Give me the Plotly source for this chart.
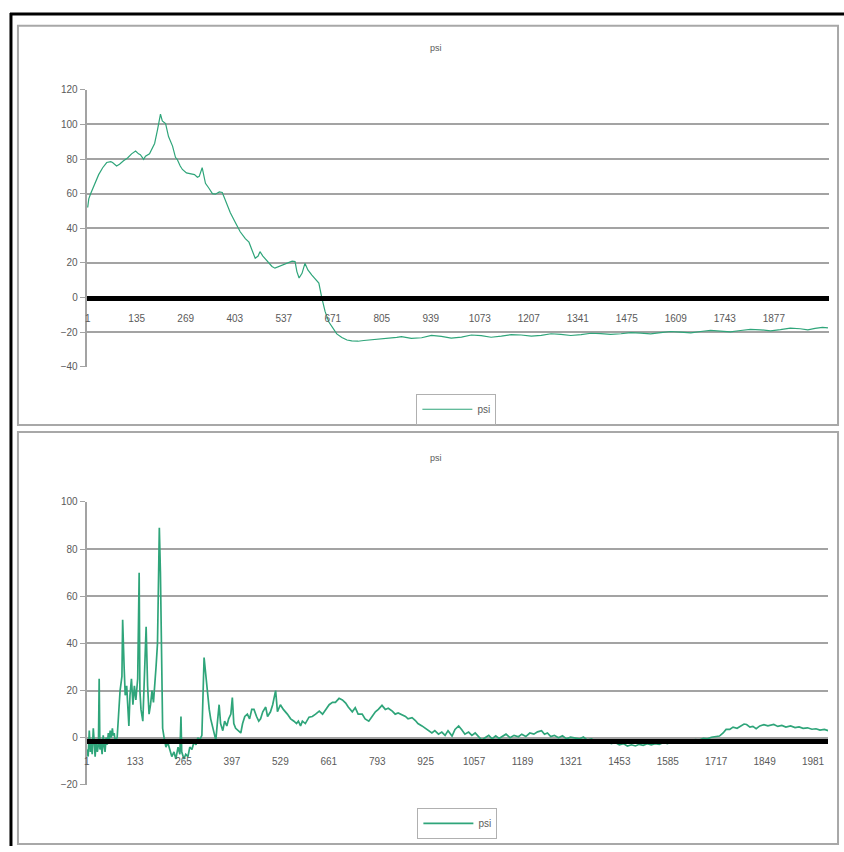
import plotly.graph_objects as go

# ---------------- data ----------------
top_x = [1, 4, 9, 20, 31, 42, 53, 64, 69, 80, 88, 99, 110, 121, 132, 140, 145, 154, 159, 170,
         178, 184, 192, 200, 205, 214, 222, 233, 241, 246, 254, 260, 271, 282, 293, 301, 306, 314,
         323, 333, 342, 350, 361, 369, 380, 391, 404, 418, 432, 442, 451, 459, 467, 472, 480, 486,
         497, 505, 513, 524, 538, 551, 560, 568, 573, 579, 587, 595, 603, 614, 625, 633, 641, 650,
         660, 669, 682, 696, 710, 723, 740, 756, 775, 794, 818, 846, 859, 886, 914, 941, 968, 995,
         1023, 1050, 1077, 1104, 1132, 1159, 1186, 1214, 1241, 1268, 1295, 1322, 1350, 1377, 1404,
         1431, 1459, 1486, 1513, 1540, 1568, 1595, 1622, 1650, 1677, 1704, 1731, 1758, 1786, 1813,
         1840, 1868, 1895, 1922, 1949, 1970, 1990, 2010, 2025]
top_y = [52, 57, 60, 66, 71, 75, 78, 78.5, 78, 76, 77, 79, 80.6, 83, 84.6, 83, 82.5, 79.8, 81.6, 83,
         87, 89, 97, 106, 102, 100.5, 93, 87.5, 81, 79.7, 76, 74, 72, 71.5, 71, 69.5, 70, 75,
         66, 63, 60, 59.7, 61, 60.7, 55, 49, 43.6, 38, 34, 32, 27, 22.7, 24, 26.5, 24, 22.7,
         20, 18, 17, 18, 19, 20, 21, 20.8, 15, 11.3, 14, 19.8, 16, 13, 10, 8.4, 0, -8,
         -14, -17, -21, -23, -24.5, -25, -25.2, -24.8, -24.5, -24, -23.5, -23, -22.5, -23.6, -23.2, -21.8, -22.4, -23.4,
         -22.8, -21.6, -22, -22.9, -22.3, -21.4, -21.6, -22.3, -21.8, -20.9, -21.2, -21.9, -21.4, -20.6, -20.8,
         -21.3, -20.9, -20.2, -20.5, -20.9, -20.2, -19.6, -20, -20.4, -19.6, -18.9, -19.4, -19.8, -19, -18.4,
         -18.6, -19.2, -18.5, -17.6, -18, -18.6, -17.8, -17.2, -17.5]

bot_x = [1, 5, 8, 11, 13, 16, 19, 22, 24, 27, 30, 33, 35, 37, 40, 43, 46, 49, 51, 54, 57, 60, 62, 65,
         68, 71, 73, 76, 78, 84, 92, 97, 99, 103, 106, 110, 114, 116, 119, 123, 127, 131, 135, 140,
         144, 146, 149, 154, 157, 163, 167, 171, 175, 179, 183, 187, 190, 194, 199, 202, 205, 208,
         212, 217, 222, 228, 233, 239, 244, 250, 255, 258, 260, 266, 271, 277, 282, 288, 293, 299,
         304, 309, 315, 321, 326, 330, 335, 339, 344, 347, 353, 357, 362, 366, 372, 377, 383, 388,
         394, 398, 402, 407, 413, 421, 426, 432, 439, 445, 451, 457, 464, 470, 475, 481, 489, 494,
         502, 508, 516, 521, 529, 537, 548, 557, 566, 573, 578, 584, 589, 597, 607, 616, 625, 635,
         644, 652, 662, 671, 679, 689, 698, 707, 714, 725, 733, 741, 752, 760, 770, 779, 788, 796,
         806, 815, 823, 834, 842, 850, 861, 870, 877, 888, 897, 904, 915, 924, 933, 942, 950, 960,
         969, 978, 986, 997, 1005, 1015, 1024, 1032, 1042, 1051, 1060, 1070, 1078, 1087, 1097, 1106,
         1116, 1125, 1133, 1144, 1155, 1166, 1178, 1187, 1198, 1209, 1220, 1230, 1241, 1249, 1257,
         1266, 1276, 1287, 1298, 1309, 1320, 1331, 1344, 1355, 1366, 1377, 1388, 1398, 1409, 1420,
         1431, 1442, 1453, 1464, 1475, 1486, 1497, 1507, 1518, 1529, 1540, 1551, 1562, 1573, 1584,
         1595, 1606, 1617, 1627, 1638, 1649, 1660, 1671, 1682, 1693, 1704, 1715, 1726, 1736, 1744,
         1754, 1763, 1774, 1785, 1793, 1800, 1809, 1817, 1826, 1836, 1847, 1858, 1874, 1885, 1896,
         1907, 1920, 1932, 1943, 1954, 1966, 1978, 1989, 2000, 2012, 2022]
bot_y = [-5, -8, 3, -6, -2, -7, 4, -4, -8, -1, -6, -3, 25, -5, -2, -7, 1, -4, -6, 0, -3, 2, -2, 3,
         0, 4, 1, 2, -1, 0, 20, 26, 50, 30, 18, 22, 12, 5, 18, 25, 14, 22, 16, 25,
         70, 20, 12, 7, 20, 47, 22, 10, 14, 20, 15, 22, 30, 40, 89, 70, 30, 4,
         0, -4, -2, -5, -8, -6, -9, -4, -7, 9, -6, -9, -7, -8, -4, -5, -2, -3,
         0, -1, 1, 34, 25, 20, 12, 8, 5, 3, -1, 6, 14, 6, 3, 7, 5, 8,
         10, 17, 6, 4, 3, 2, 6, 9, 10, 8, 12, 12, 9, 7, 8, 11, 13, 9,
         11, 14, 20, 11, 14, 12, 10, 8, 7, 6, 7, 5, 7, 6, 8.7, 9, 10, 11.3,
         10, 12, 14, 15, 15, 16.7, 16, 14.7, 13, 11, 12.7, 10, 10, 8, 7, 9, 11, 12,
         13.7, 12, 12.5, 11.3, 10, 10.5, 9.7, 9, 8, 8.5, 7.3, 6, 5, 4, 3, 2, 3, 1.5,
         2.4, 1, 3, 0.7, 3.5, 5, 3.3, 1.5, 2.4, 1, 2, 0.5, -1, 0, 1, -0.5,
         0.8, -0.3, 0.4, 1.5, 0, 1, 0.4, 1.5, 0.5, 2, 1.5, 2.5, 3, 1.5, 2,
         0.5, 1, 0, 0.8, -0.5, 0.2, 0, -0.5, 0.3, -1, -0.5, -1.5, -1, -2, -1.5,
         -2.5, -2, -3, -2.5, -3.5, -3, -3.5, -2.8, -3.2, -2.5, -3, -2.5, -2.8, -2, -2.5,
         -1.8, -2.2, -1.5, -1.8, -1.2, -1.4, -0.8, -1, -0.3, -0.5, 0.2, 0.5, 0.7, 2, 3.5,
         3.5, 4.5, 4, 5, 5.8, 5.6, 4.5, 4.8, 3.8, 5, 5.5, 5, 5.6, 4.8, 5.2,
         4.5, 5, 4.3, 4.6, 4, 4.2, 3.6, 3.8, 3.2, 3.5, 3]

top_ticks = [1, 135, 269, 403, 537, 671, 805, 939, 1073, 1207, 1341, 1475, 1609, 1743, 1877]
bot_ticks = [1, 133, 265, 397, 529, 661, 793, 925, 1057, 1189, 1321, 1453, 1585, 1717, 1849, 1981]
top_yticks = [-40, -20, 0, 20, 40, 60, 80, 100, 120]
bot_yticks = [-20, 0, 20, 40, 60, 80, 100]
series_name = "psi"

# ---------------- layout helpers ----------------
W, H = 844, 852
def px(x):
    return x / W
def py(y):
    return 1 - y / H

LINE = "#2fa57a"
GRID = "#a3a3a3"
TXT = "#5a5a5a"
FONT = "Liberation Sans, Arial, sans-serif"

fig = go.Figure()
fig.add_trace(go.Scatter(x=top_x, y=top_y, mode="lines", name=series_name,
                         line=dict(color=LINE, width=1.2), xaxis="x", yaxis="y",
                         legend="legend"))
fig.add_trace(go.Scatter(x=bot_x, y=bot_y, mode="lines", name=series_name,
                         line=dict(color=LINE, width=1.7), xaxis="x2", yaxis="y2",
                         legend="legend2"))

xcommon = dict(showgrid=False, zeroline=False, showline=True, linecolor="black", linewidth=5,
               ticks="outside", ticklen=9, tickcolor="rgba(0,0,0,0)",
               tickfont=dict(size=10, color=TXT, family=FONT), anchor="free")
ycommon = dict(showgrid=True, gridcolor=GRID, gridwidth=2, zeroline=False, showline=True,
               linecolor=GRID, linewidth=2, ticks="outside", ticklen=5, tickcolor=GRID,
               tickfont=dict(size=10, color=TXT, family=FONT))

legend_common = dict(xanchor="center", yanchor="middle", bordercolor="#b0b0b0", borderwidth=1,
                     bgcolor="white", itemwidth=50, font=dict(size=10, color=TXT, family=FONT))

fig.update_layout(
    autosize=True, margin=dict(l=0, r=0, t=0, b=0),
    paper_bgcolor="white", plot_bgcolor="white",
    xaxis=dict(domain=[px(84), px(829)], range=[-1.7, 2028], tickvals=top_ticks,
               position=py(296.5), **xcommon),
    yaxis=dict(domain=[py(366), py(85)], range=[-40, 120], tickvals=top_yticks,
               anchor="x", **ycommon),
    xaxis2=dict(domain=[px(84), px(828)], range=[1, 2022], tickvals=bot_ticks,
                position=py(745), **xcommon),
    yaxis2=dict(domain=[py(790), py(503)], range=[-20, 100], tickvals=bot_yticks,
                anchor="x2", **ycommon),
    legend=dict(x=px(455), y=py(409), **legend_common),
    legend2=dict(x=px(456), y=py(829), **legend_common),
    showlegend=True,
)

# titles
for yy in (35, 458):
    fig.add_annotation(text=series_name, x=px(435), y=py(yy), xref="paper", yref="paper",
                       showarrow=False, font=dict(size=9, color=TXT, family=FONT))

# frame: black outer edges and gray panel borders
shapes = [
    dict(type="rect", xref="paper", yref="paper", x0=px(15), x1=px(838), y0=py(425), y1=py(20),
         line=dict(color="#a8a8a8", width=2)),
    dict(type="rect", xref="paper", yref="paper", x0=px(15), x1=px(838), y0=py(850), y1=py(432),
         line=dict(color="#a8a8a8", width=2)),
    dict(type="line", xref="paper", yref="paper", x0=px(7), x1=px(844), y0=py(8), y1=py(8),
         line=dict(color="black", width=3)),
    dict(type="line", xref="paper", yref="paper", x0=px(8), x1=px(8), y0=py(7), y1=py(852),
         line=dict(color="black", width=3)),
]
fig.update_layout(shapes=shapes)

post = (
    "document.documentElement.style.margin='0';"
    "document.documentElement.style.overflow='hidden';"
    "document.body.style.margin='0';"
    "document.body.style.overflow='hidden';"
    "var d=document.getElementById('{plot_id}');"
    "d.style.position='fixed';d.style.top='0px';d.style.left='0px';"
    "d.style.width='100vw';d.style.height='100vh';"
    "Plotly.Plots.resize(d);"
)
fig.write_html("out.html", config={"displayModeBar": False, "responsive": True},
               default_width="100vw", default_height="100vh", post_script=post)
